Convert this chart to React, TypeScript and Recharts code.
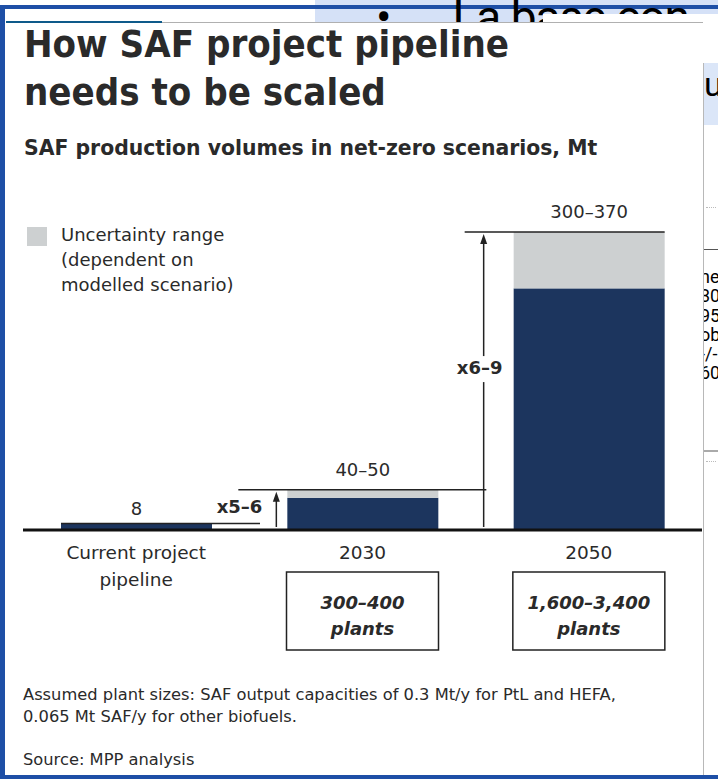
import { BarChart, Bar, XAxis, YAxis } from 'recharts';

const categories = ['Current project\npipeline', '2030', '2050'];
const confirmedVolume = [8, 40, 300];
const uncertaintyRange = [0, 10, 70];
const volumeLabels = ['8', '40–50', '300–370'];
const scaleUpLabels = ['', 'x5–6', 'x6–9'];
const plantLabels = ['', '300–400', '1,600–3,400'];

const data = categories.map((name, i) => ({
  name,
  low: confirmedVolume[i],
  range: uncertaintyRange[i],
}));

const NAVY = '#1c355e';
const GREY = '#cdd0d1';
const INK = '#2a2a2a';
const FONT = '"DejaVu Sans", sans-serif';
const COND = '"DejaVu Sans Condensed", "DejaVu Sans", sans-serif';

// annotations sit on top of the highest segment of each stack
function Annotation({ i, x, w, top, base }: { i: number; x: number; w: number; top: number; base: number }) {
  const last = categories.length - 1;
  const left = i > 0 ? x - 49 : x;
  const right = i < last ? x + w + 48 : x + w;
  const arrowX = i === 1 ? x - 11 : x - 30;
  const midY = top + (base - top) * 0.46;
  return (
    <g>
      <line x1={left} x2={right} y1={top} y2={top} stroke="#222" strokeWidth={1.5} />
      <text x={x + w / 2} y={top - (i === 0 ? 14 : 19)} textAnchor="middle" dominantBaseline="middle" fontSize={18} fill={INK} fontFamily={FONT}>
        {volumeLabels[i]}
      </text>
      {i > 0 && (
        <g>
          <line x1={arrowX} x2={arrowX} y1={base - 3} y2={top + 8} stroke="#222" strokeWidth={1.5} />
          <path d={`M${arrowX - 3.5},${top + 12} L${arrowX},${top + 2} L${arrowX + 3.5},${top + 12} Z`} fill="#222" />
        </g>
      )}
      {i === 1 && (
        <text x={x - 25} y={base - 22} textAnchor="end" dominantBaseline="middle" fontSize={18} fontWeight={700} fill={INK} fontFamily={FONT}>
          {scaleUpLabels[i]}
        </text>
      )}
      {i === 2 && (
        <g>
          <rect x={arrowX - 27} y={midY - 13} width={54} height={26} fill="#fff" />
          <text x={arrowX - 4} y={midY} textAnchor="middle" dominantBaseline="middle" fontSize={18} fontWeight={700} fill={INK} fontFamily={FONT}>
            {scaleUpLabels[i]}
          </text>
        </g>
      )}
    </g>
  );
}

function LowShape(props: any) {
  const { x, y, width, height, payload } = props;
  const i = categories.indexOf(payload.name);
  return (
    <g>
      <rect x={x} y={y} width={width} height={height} fill={NAVY} />
      {payload.range === 0 && <Annotation i={i} x={x} w={width} top={y} base={y + height} />}
    </g>
  );
}

function RangeShape(props: any) {
  const { x, y, width, height, payload } = props;
  if (!payload.range) return null;
  const i = categories.indexOf(payload.name);
  const base = y + height + (height / payload.range) * payload.low;
  return (
    <g>
      <rect x={x} y={y} width={width} height={height} fill={GREY} />
      <Annotation i={i} x={x} w={width} top={y} base={base} />
    </g>
  );
}

function CategoryTick(props: any) {
  const { x, y, payload } = props;
  const i = categories.indexOf(payload.value);
  const lines = String(payload.value).split('\n');
  return (
    <g fontFamily={FONT}>
      {lines.map((ln, k) => (
        <text key={k} x={x} y={y + 16 + k * 27} textAnchor="middle" dominantBaseline="middle" fontSize={18.5} fill={INK}>
          {ln}
        </text>
      ))}
      {plantLabels[i] && (
        <g>
          <rect x={x - 76} y={y + 34} width={152} height={78} fill="#fff" stroke="#222" strokeWidth={1.5} />
          <text x={x} y={y + 66} textAnchor="middle" dominantBaseline="middle" fontSize={18} fontWeight={700} fontStyle="italic" fill={INK}>
            {plantLabels[i]}
          </text>
          <text x={x} y={y + 92} textAnchor="middle" dominantBaseline="middle" fontSize={18} fontWeight={700} fontStyle="italic" fill={INK}>
            plants
          </text>
        </g>
      )}
    </g>
  );
}

const abs = (left: number, top: number, extra: React.CSSProperties = {}): React.CSSProperties => ({
  position: 'absolute',
  left,
  top,
  ...extra,
});

export default function App() {
  return (
    <div style={{ position: 'absolute', left: 0, top: 0, width: 718, height: 779, background: '#fff', overflow: 'hidden', fontFamily: FONT, color: INK }}>
      {/* slide behind the screenshot */}
      <div style={abs(315, 0, { width: 403, height: 22, background: '#d5e1f7' })} />
      <div style={abs(0, 5, { width: 718, height: 4, background: '#1e4fa6' })} />
      <div style={abs(315, 0, { width: 403, height: 22, overflow: 'hidden' })}>
        <div style={abs(61, -6, { fontFamily: 'Roboto, sans-serif', fontSize: 46, lineHeight: '46px', color: '#000', whiteSpace: 'nowrap', letterSpacing: -1 })}>
          •<span style={{ marginLeft: 62 }}>La base con</span>
        </div>
      </div>
      <div style={abs(543, 14, { width: 175, height: 9, background: '#fff' })} />
      <div style={abs(0, 5, { width: 5, height: 774, background: '#1e4fa6' })} />
      <div style={abs(0, 775, { width: 718, height: 4, background: '#1e4fa6' })} />
      <div style={abs(6, 21, { width: 156, height: 2, background: '#0e5a8a' })} />
      <div style={abs(162, 22, { width: 541, height: 1, background: '#b0b0b0' })} />
      <div style={abs(703, 63, { width: 1, height: 712, background: '#b8b8b8' })} />
      <div style={abs(704, 63, { width: 14, height: 62, background: '#dbe6f8', overflow: 'hidden' })}>
        <div style={abs(0, 4, { fontFamily: 'Roboto, sans-serif', fontSize: 34, lineHeight: '34px', color: '#000' })}>u</div>
      </div>
      <div style={abs(706, 207, { width: 10, height: 1, borderTop: '1px dotted #bbb' })} />
      <div style={abs(704, 249, { width: 14, height: 1, background: '#555' })} />
      <div style={abs(704, 450, { width: 14, height: 2, background: '#aaa' })} />
      <div style={abs(706, 461, { width: 10, height: 1, borderTop: '1px dotted #bbb' })} />
      <div style={abs(704, 262, { width: 14, height: 126, overflow: 'hidden' })}>
        <div style={abs(-4, 5, { fontFamily: 'Roboto, sans-serif', fontSize: 18, lineHeight: '19.3px', color: '#000' })}>
          {['ne', '30', '95', 'ob', '-/-', '60'].map((t) => (
            <div key={t}>{t}</div>
          ))}
        </div>
      </div>

      {/* headings */}
      <div style={abs(24, 20, { fontFamily: COND, fontSize: 38, lineHeight: '48px', fontWeight: 700, whiteSpace: 'nowrap' })}>
        How SAF project pipeline
        <br />
        needs to be scaled
      </div>
      <div style={abs(24, 135, { fontSize: 20.4, lineHeight: '26px', fontWeight: 700, whiteSpace: 'nowrap' })}>
        SAF production volumes in net-zero scenarios, Mt
      </div>

      {/* legend */}
      <div style={abs(27, 227, { width: 20, height: 19, background: GREY })} />
      <div style={abs(61, 222, { fontSize: 18, lineHeight: '25px', whiteSpace: 'nowrap' })}>
        Uncertainty range
        <br />
        (dependent on
        <br />
        modelled scenario)
      </div>

      <div style={abs(0, 0)}>
        <BarChart width={718} height={779} data={data} margin={{ top: 232, right: 16, bottom: 119, left: 23 }} barSize={151}>
          <YAxis hide domain={[0, 370]} />
          <XAxis
            dataKey="name"
            axisLine={{ stroke: '#111', strokeWidth: 3 }}
            tickLine={false}
            interval={0}
            height={130}
            tick={<CategoryTick />}
          />
          <Bar dataKey="low" stackId="saf" fill={NAVY} shape={<LowShape />} isAnimationActive={false} />
          <Bar dataKey="range" stackId="saf" fill={GREY} shape={<RangeShape />} isAnimationActive={false} />
        </BarChart>
      </div>

      {/* notes */}
      <div style={abs(23, 684, { fontSize: 16.3, lineHeight: '22px', whiteSpace: 'nowrap' })}>
        Assumed plant sizes: SAF output capacities of 0.3 Mt/y for PtL and HEFA,
        <br />
        0.065 Mt SAF/y for other biofuels.
      </div>
      <div style={abs(23, 749, { fontSize: 16.3, lineHeight: '22px', whiteSpace: 'nowrap' })}>Source: MPP analysis</div>
    </div>
  );
}
